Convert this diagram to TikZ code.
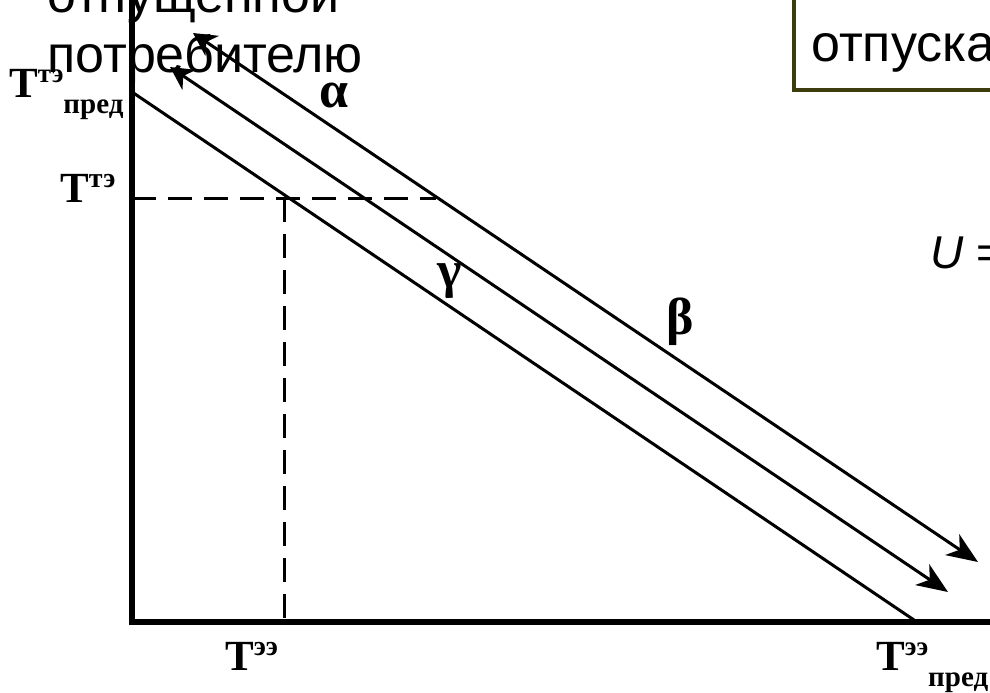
\documentclass[tikz,border=0pt]{standalone}
\usepackage{fontspec}
\setmainfont{Liberation Serif}
\newfontfamily\sansf{Liberation Sans}
\usetikzlibrary{arrows.meta}
\newcommand{\TLa}[1]{\fontsize{43}{43}\selectfont\bfseries T\raisebox{15pt}{\fontsize{28}{28}\selectfont #1}}
\newcommand{\TLb}[2]{\fontsize{43}{43}\selectfont\bfseries T\raisebox{15pt}{\fontsize{27}{27}\selectfont #1}\raisebox{-16pt}{\fontsize{29}{29}\selectfont #2}}
\definecolor{boxolive}{RGB}{60,60,12}
\begin{document}
\begin{tikzpicture}[x=1pt,y=-1pt,
  lab/.style={inner sep=0pt, anchor=base west},
  greek/.style={inner sep=0pt, font=\fontsize{52}{52}\selectfont\bfseries},
  bigtext/.style={inner sep=0pt, anchor=base west, font=\sansf\fontsize{52}{60}\selectfont},
  axis/.style={line width=5.5pt},
  diag/.style={line width=3pt},
  guide/.style={line width=3pt, dash pattern=on 24pt off 12pt},
  arr/.style={line width=3pt, {Stealth[length=23pt,width=24pt,inset=7pt]}-{Stealth[length=31pt,width=25pt,inset=9pt]}}
]
\useasboundingbox (0,0) rectangle (990,693);
\clip (0,0) rectangle (990,693);
\fill[white] (0,0) rectangle (990,693);

% coordinates
\coordinate (ytop) at (132,-10);
\coordinate (xend) at (1000,622);
\coordinate (l0a) at (132,92);
\coordinate (l0b) at (917,622);
\coordinate (l1a) at (170,67);
\coordinate (l1b) at (948,592);
\coordinate (l2a) at (193,33);
\coordinate (l2b) at (978,562);
\coordinate (hd0) at (132,198);
\coordinate (hd1) at (436,198);
\coordinate (vd0) at (284,198);
\coordinate (vd1) at (284,620);

% box at top right
\draw[boxolive, line width=4pt] (794,-20) rectangle (1100,90);
\node[bigtext] (otp) at (811,62) {отпуска};

% texts
\node[bigtext] (t1) at (47,13) {отпущенной};
\node[bigtext] (t2) at (47,72) {потребителю};
\node[inner sep=0pt, anchor=base west, font=\sansf\fontsize{46}{46}\selectfont] (ueq) at (930,268) {\textit{U} =};

% axes
\draw[axis] (ytop) -- (132,624.75);
\draw[axis] (129.25,622) -- (xend);

% dashed guides
\draw[guide] (hd0) -- (hd1);
\draw[guide] (vd0) -- (vd1);

% lines
\draw[diag] (l0a) -- (l0b);
\draw[arr] (l1a) -- (l1b);
\draw[arr] (l2a) -- (l2b);

% greek labels
\node[greek] (alpha) at (334,96) {α};
\node[greek] (beta) at (680,322) {β};
\node[greek] (gamma) at (450,281) {γ};

% axis labels
\node[lab] (tpred) at (9,97) {\TLb{тэ}{пред}};
\node[lab] (tte) at (60,202) {\TLa{тэ}};
\node[lab] (tee) at (225,670) {\TLa{ээ}};
\node[lab] (teepred) at (876,670) {\TLb{ээ}{пред}};
\end{tikzpicture}
\end{document}
